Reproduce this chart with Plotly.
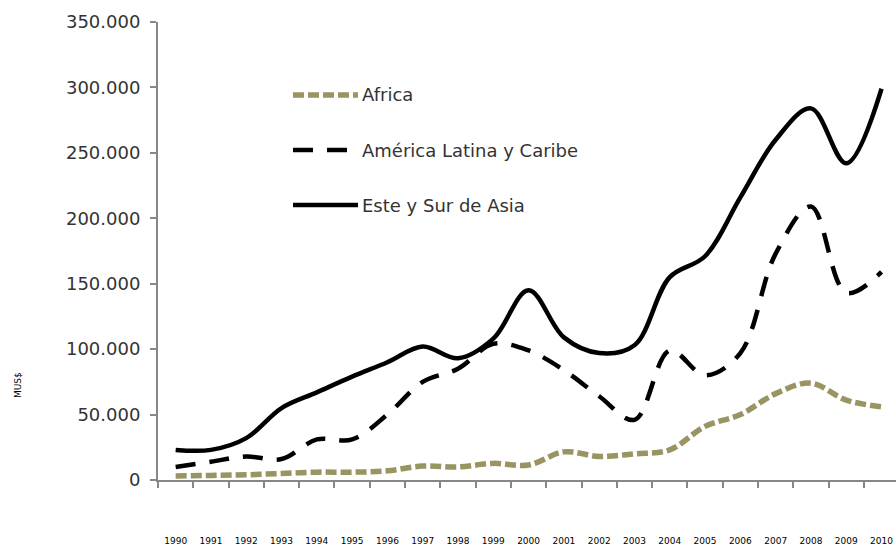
import plotly.graph_objects as go

years = [str(y) for y in range(1990, 2011)]
africa = [3000, 3500, 4000, 5000, 6000, 6000, 7000, 10700, 10000, 12700, 11500,
          21500, 18000, 20000, 23000, 41000, 50000, 66000, 74000, 61000, 56000]
latam = [10000, 14000, 18000, 16000, 31000, 31000, 50000, 75000, 85000, 104000, 99000,
         84000, 64000, 46000, 99000, 80000, 97000, 173000, 209000, 143000, 159000]
asia = [23000, 23000, 32000, 55000, 67000, 79000, 90000, 102000, 93000, 108000, 145000,
        109000, 97000, 103000, 155000, 171000, 216000, 260000, 284000, 242000, 299000]
names = ["Africa", "América Latina y Caribe", "Este y Sur de Asia"]
y_ticks = list(range(0, 350001, 50000))

FONT = "DejaVu Sans"
TXT = "#333333"
AX = "#878787"
OLIVE = "#9a9362"

fig = go.Figure()
fig.add_trace(go.Scatter(x=years, y=africa, mode="lines", name=names[0],
                         line=dict(color=OLIVE, width=5.5, dash="11px,4px", shape="spline", smoothing=1.0)))
fig.add_trace(go.Scatter(x=years, y=latam, mode="lines", name=names[1],
                         line=dict(color="black", width=4.5, dash="20px,14px", shape="spline", smoothing=1.0)))
fig.add_trace(go.Scatter(x=years, y=asia, mode="lines", name=names[2],
                         line=dict(color="black", width=4.5, shape="spline", smoothing=1.0)))

W, H = 896, 549
L, T = 158, 22
B = H - 480
pw = W - L
ph = H - T - B

def px(xp):
    return (xp - L) / pw

def py(yp):
    return (H - B - yp) / ph

# custom legend (Excel style, long line samples)
leg_y = [95, 150, 205]
leg_styles = [dict(color=OLIVE, width=5.5, dash="11px,4px"),
              dict(color="black", width=4.5, dash="20px,14px"),
              dict(color="black", width=4.5)]
for nm, yy, st in zip(names, leg_y, leg_styles):
    fig.add_shape(type="line", xref="paper", yref="paper",
                  x0=px(293), x1=px(358), y0=py(yy), y1=py(yy), line=st)
    fig.add_annotation(text=nm, xref="paper", yref="paper", x=px(360), y=py(yy),
                       xanchor="left", yanchor="middle", showarrow=False,
                       font=dict(family=FONT, size=18, color=TXT))

fig.add_annotation(text="MUS$", xref="paper", yref="paper", x=px(18), y=py(385),
                   textangle=-90, showarrow=False, xanchor="center", yanchor="middle",
                   font=dict(family=FONT, size=9, color="black"))

fig.update_layout(
    width=W, height=H,
    margin=dict(l=L, r=0, t=T, b=B, autoexpand=False),
    paper_bgcolor="white", plot_bgcolor="white",
    showlegend=False,
    separators=",.",
    font=dict(family=FONT, size=18, color=TXT),
)
fig.update_xaxes(
    type="category", range=[-0.5, 20.41], automargin=False,
    showline=True, linecolor=AX, linewidth=2,
    ticks="outside", ticklen=6, tickcolor=AX, tickwidth=2,
    tickson="boundaries", showgrid=False, zeroline=False,
    tickangle=0, ticklabelstandoff=51,
    tickfont=dict(family=FONT, size=9, color="black"),
)
fig.update_yaxes(
    range=[0, 350000], tickvals=y_ticks, tickformat=",d", automargin=False,
    showline=True, linecolor=AX, linewidth=2,
    ticks="outside", ticklen=6, tickcolor=AX, tickwidth=2,
    showgrid=False, zeroline=False, ticklabelstandoff=6,
    tickfont=dict(family=FONT, size=18, color=TXT),
)

fig.write_html("out.html", config={"displayModeBar": False},
               post_script="document.body.style.margin='0';document.body.style.overflow='hidden';")
